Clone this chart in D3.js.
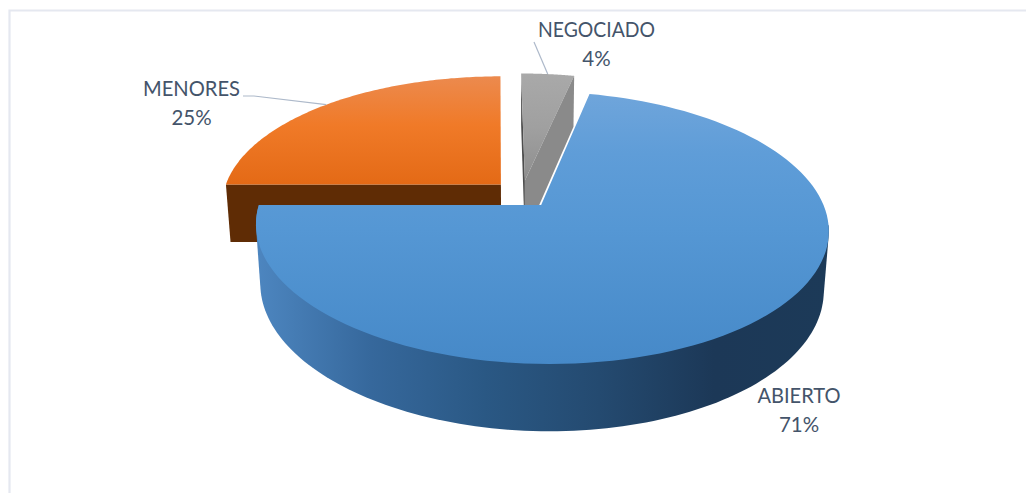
<!DOCTYPE html>
<html>
<head>
<meta charset="utf-8">
<script src="https://d3js.org/d3.v7.min.js"></script>
<style>
  html, body { margin: 0; padding: 0; background: #fff; overflow: hidden; }
  text { font-family: Lato, "Open Sans", sans-serif; font-size: 20.5px; fill: #44546a; }
</style>
</head>
<body>
<svg width="1026" height="493"></svg>
<script>
// values, unrounded shares that round to the printed labels
var categories = ["ABIERTO", "MENORES", "NEGOCIADO"]
var shares = [71.4, 25, 3.6]

var topColors = [
    [[0, "#6fa5db"], [0.22, "#5f9dd8"], [0.5, "#5597d4"], [1, "#4689c8"]],
    [[0, "#ec8a4e"], [0.45, "#f07a28"], [1, "#e46a16"]],
    [[0, "#a9a9a9"], [0.5, "#a0a0a0"], [1, "#8e8e8e"]]
]
var cutColors = ["#2f6090", "#5f2c05", "#8a8a8a"]
var wallStops = ["#4d86c0", "#36689c", "#2a5884", "#244a70", "#1c3857", "#1c3a58"]

// projection of the tilted pie plane to the screen
var ox = 522, oy = 194
var persp = 0.165, persp_z = 0.016
var scale_u = 278.4, scale_v = 128.8, skew = 4, depth = 59
var explode = 0.107

function project(u, v, z) {
    var w = 1 - persp * v + persp_z * z
    return [ox + (scale_u * u + skew * v) / w, oy + (scale_v * v + depth * z) / w]
}

var first_angle = 2 * Math.PI * shares[2] / 100
var slices = d3.pie().sort(null).startAngle(first_angle).endAngle(first_angle + 2 * Math.PI)(shares)

function slice_center(s) {
    var mid = (s.startAngle + s.endAngle) / 2
    return [explode * Math.sin(mid), -explode * Math.cos(mid)]
}

function rim_point(s, angle, z) {
    var c = slice_center(s)
    return project(c[0] + Math.sin(angle), c[1] - Math.cos(angle), z)
}

function rim(s, from, to, z) {
    return d3.range(0, 121).map(function (i) {
        return rim_point(s, from + (to - from) * i / 120, z)
    })
}

var svg = d3.select("svg")
var defs = svg.append("defs")
var line = d3.line().curve(d3.curveLinearClosed)

// frame: only the top and left rules show in the picture
svg.append("path")
    .attr("d", "M1026,10.5H9.5V493")
    .attr("fill", "none").attr("stroke", "#e5e8f0").attr("stroke-width", 2.2)

function top_face(g, s, i) {
    var c = project(slice_center(s)[0], slice_center(s)[1], 0)
    var pts = [c].concat(rim(s, s.startAngle, s.endAngle, 0))
    var ext = d3.extent(pts, function (p) { return p[1] })
    var grad = defs.append("linearGradient")
        .attr("id", "top" + i)
        .attr("gradientUnits", "userSpaceOnUse")
        .attr("x1", 0).attr("x2", 0).attr("y1", ext[0]).attr("y2", ext[1])
    topColors[i].forEach(function (st) {
        grad.append("stop").attr("offset", st[0]).attr("stop-color", st[1])
    })
    g.append("path").attr("d", line(pts)).attr("fill", "url(#top" + i + ")")
}

function cut_face(g, s, angle, color) {
    var c = slice_center(s)
    g.append("path")
        .attr("d", line([project(c[0], c[1], 0), rim_point(s, angle, 0), rim_point(s, angle, 1), project(c[0], c[1], 1)]))
        .attr("fill", color)
}

// back to front: orange, gray, blue
var orange = slices[1], gray = slices[2], blue = slices[0]

var g_orange = svg.append("g")
cut_face(g_orange, orange, orange.startAngle, cutColors[1])
top_face(g_orange, orange, 1)

var g_gray = svg.append("g")
cut_face(g_gray, gray, gray.startAngle, "#4d4d4d")
top_face(g_gray, gray, 2)
cut_face(g_gray, gray, gray.endAngle, cutColors[2])

// the wall is the hull of the front rim at both heights, the top face covers the rest
var g_blue = svg.append("g")
var front_from = Math.PI / 2 + 0.15
var wall_pts = d3.polygonHull(rim(blue, front_from, blue.endAngle, 0)
    .concat(rim(blue, front_from, blue.endAngle, 1)))
var wall_x = d3.extent(wall_pts, function (p) { return p[0] })
var wall_grad = defs.append("linearGradient")
    .attr("id", "wall")
    .attr("gradientUnits", "userSpaceOnUse")
    .attr("x1", wall_x[0]).attr("x2", wall_x[1]).attr("y1", 0).attr("y2", 0)
wallStops.forEach(function (col, k) {
    wall_grad.append("stop").attr("offset", k / (wallStops.length - 1)).attr("stop-color", col)
})
g_blue.append("path").attr("d", line(wall_pts)).attr("fill", "url(#wall)")
top_face(g_blue, blue, 0)

// leader lines run to the middle of the slice rim
var leader = d3.line()
svg.append("path")
    .attr("d", leader([[243, 96], [254, 96], rim_point(orange, (orange.startAngle + orange.endAngle) / 2, 0)]))
    .attr("fill", "none").attr("stroke", "#adb9ca").attr("stroke-width", 1.2)
svg.append("path")
    .attr("d", leader([[534, 42], rim_point(gray, (gray.startAngle + gray.endAngle) / 2, 0)]))
    .attr("fill", "none").attr("stroke", "#adb9ca").attr("stroke-width", 1.2)

// labels, names squeezed to the width they have in the picture
var label_pos = [[799, 403], [191.5, 96], [596.5, 37]]
var label_width = [83, 97, 117]
var pct = d3.format(".0%")
categories.forEach(function (name, i) {
    var t = svg.append("text").attr("text-anchor", "middle")
        .attr("transform", "translate(" + label_pos[i][0] + "," + label_pos[i][1] + ")")
    t.append("tspan").attr("x", 0).attr("y", 0)
        .attr("textLength", label_width[i]).attr("lengthAdjust", "spacingAndGlyphs").text(name)
    t.append("tspan").attr("x", 0).attr("y", 29).text(pct(shares[i] / 100))
})
</script>
</body>
</html>
